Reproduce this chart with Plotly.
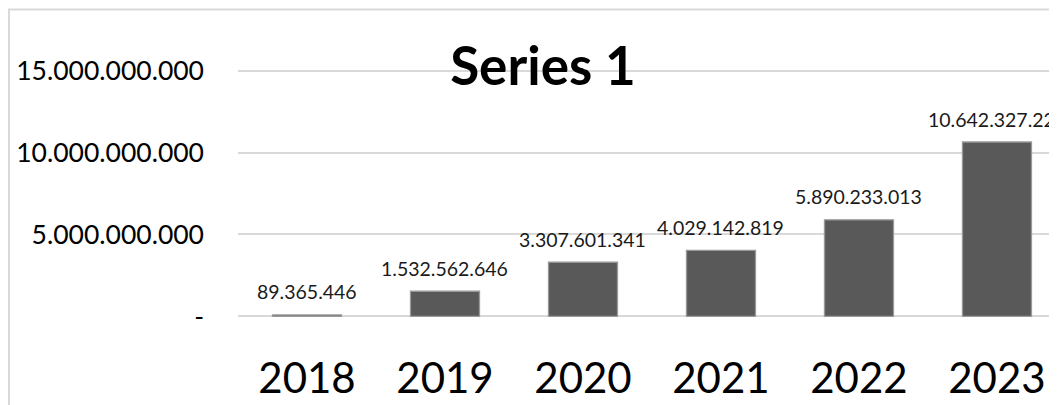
import plotly.graph_objects as go

years = ["2018", "2019", "2020", "2021", "2022", "2023"]
values = [89365446, 1532562646, 3307601341, 4029142819, 5890233013, 10642327225]
tick_vals = [0, 5000000000, 10000000000, 15000000000]
tick_text = ["-", "5.000.000.000", "10.000.000.000", "15.000.000.000"]
series_name = "Series 1"


def fmt(v):
    return f"{v:,}".replace(",", ".")


# page body has an 8px margin: figure sized to fit window exactly
W, H = 1049, 397
L = 230
Y_MAX = 15000000000
PAD = 100000000
PX_PER = 245 / Y_MAX
T = 63 - PAD * PX_PER
B = 89 - PAD * PX_PER
FONT = "Lato, 'Open Sans', sans-serif"

fig = go.Figure()
fig.add_trace(go.Bar(
    x=years, y=values, width=0.5,
    marker=dict(color="#595959", line=dict(color="#999999", width=1.3)),
    name=series_name, showlegend=False, hoverinfo="x+y",
))

for i, v in enumerate(values):
    fig.add_annotation(x=i, y=v, text=fmt(v), showarrow=False,
                       yshift=23, font=dict(size=19.5, color="#1a1a1a", family=FONT),
                       xanchor="center", yanchor="middle")

plot_w = W - L
plot_h = H - T - B
fig.add_shape(type="rect", xref="paper", yref="paper",
              x0=(1 - L) / plot_w, x1=1.05,
              y0=-0.6, y1=(H - B - 2) / plot_h,
              line=dict(color="#d9d9d9", width=2), layer="below")

fig.update_layout(
    width=W, height=H,
    margin=dict(l=L, r=0, t=T, b=B, pad=0),
    paper_bgcolor="white", plot_bgcolor="white",
    font=dict(family=FONT, color="black"),
    title=dict(text="<b>" + series_name + "</b>", xref="container", yref="container",
               x=535 / W, y=1 - 58 / H, xanchor="center", yanchor="middle",
               font=dict(size=53, family=FONT, color="black")),
    bargap=0.5,
)
fig.update_xaxes(
    type="category", range=[-0.5, 5.435], showgrid=False, showline=False,
    ticks="", ticklabelstandoff=32, automargin=False,
    tickfont=dict(size=42, family=FONT, color="black"),
)
fig.update_yaxes(
    range=[-PAD, Y_MAX + PAD], tickvals=tick_vals, ticktext=tick_text,
    showgrid=True, gridcolor="#d9d9d9", gridwidth=1.5, zeroline=False,
    showline=False, ticks="", ticklabelstandoff=33, automargin=False,
    tickfont=dict(size=26.5, family=FONT, color="black"),
)

fig.write_html("out.html")
